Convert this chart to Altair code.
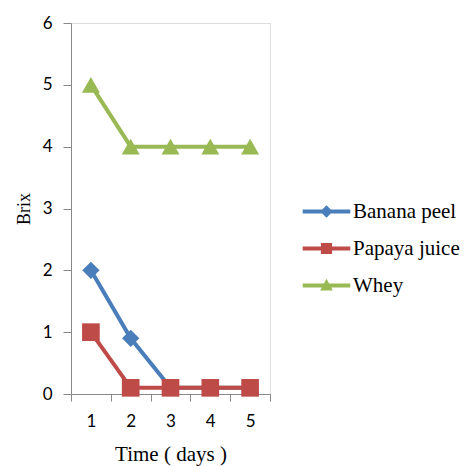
import altair as alt
import pandas as pd

time = [1, 2, 3, 4, 5]
series = ["Banana peel", "Papaya juice", "Whey"]
banana = [2.0, 0.9, 0.1, 0.1, 0.1]
papaya = [1.0, 0.1, 0.1, 0.1, 0.1]
whey = [5.0, 4.0, 4.0, 4.0, 4.0]
colors = ["#4A7EBB", "#BE4B48", "#98B954"]
shapes = ["diamond", "square", "triangle-up"]
marker_sizes = [300, 324, 324]
legend_paths = [
    "M-3.4,-0.29H-0.61L0,-0.9L0.61,-0.29H3.4V0.29H0.61L0,0.9L-0.61,0.29H-3.4Z",
    "M-3.4,-0.29H-0.8V-0.8H0.8V-0.29H3.4V0.29H0.8V0.8H-0.8V0.29H-3.4Z",
    "M-3.4,-0.29H-0.36L0,-0.95L0.36,-0.29H3.4V0.29H0.68L0.9,0.7H-0.9L-0.68,0.29H-3.4Z",
]

rows = []
for name, vals in zip(series, [banana, papaya, whey]):
    for t, v in zip(time, vals):
        rows.append({"Time": t, "Series": name, "Brix": v})
df = pd.DataFrame(rows)

x = alt.X(
    "Time:O",
    scale=alt.Scale(type="band", paddingInner=0, paddingOuter=0),
    axis=alt.Axis(
        title="Time ( days )", labelAngle=0, tickBand="extent",
        labelFont="Lato", labelFontSize=17, labelColor="#000000", labelPadding=12,
        titleFont="Liberation Serif", titleFontSize=21, titleFontWeight="normal",
        titleColor="#000000", titlePadding=14, tickSize=7,
    ),
)
y = alt.Y(
    "Brix:Q",
    scale=alt.Scale(domain=[0, 6]),
    axis=alt.Axis(
        values=[0, 1, 2, 3, 4, 5, 6], grid=False, title="Brix",
        labelFont="Lato", labelFontSize=17, labelColor="#000000", labelPadding=11,
        titleFont="Liberation Serif", titleFontSize=18, titleFontWeight="normal",
        titleColor="#000000", titlePadding=9, tickSize=8,
    ),
)

cscale = alt.Scale(domain=series, range=colors)
base = alt.Chart(df)

lines = base.mark_line(strokeWidth=4).encode(
    x=x, y=y, color=alt.Color("Series:N", scale=cscale, legend=None)
)
points = base.mark_point(filled=True, opacity=1).encode(
    x=x, y=y,
    color=alt.Color("Series:N", scale=cscale, legend=None),
    shape=alt.Shape("Series:N", scale=alt.Scale(domain=series, range=shapes), legend=None),
    size=alt.Size("Series:O", scale=alt.Scale(domain=series, range=marker_sizes), legend=None),
)
leg_common = dict(
    orient="none", legendX=245, legendY=178, title=None,
    symbolSize=196, symbolStrokeWidth=0, labelFont="Liberation Serif",
    labelFontSize=21, labelColor="#000000", labelOffset=16, rowPadding=15,
)
legend_layer = base.mark_point(filled=True, opacity=1).encode(
    x=x, y=y,
    color=alt.Color("Series:N", scale=cscale, legend=alt.Legend(**leg_common)),
    shape=alt.Shape("Series:N", scale=alt.Scale(domain=series, range=legend_paths),
                    legend=alt.Legend(**leg_common)),
).transform_filter("false")

chart = alt.layer(lines, points, legend_layer).resolve_scale(
    color="independent", shape="independent", size="independent"
).properties(
    width=199, height=371,
    autosize=alt.AutoSizeParams(type="none"),
    padding={"left": 71, "top": 23, "right": 195, "bottom": 72},
).configure_view(stroke=None).configure_axis(
    domainColor="#868686", tickColor="#868686", domainWidth=1.3, tickWidth=1.3
).configure(background="white")

chart.save("out.html", embed_options={"renderer": "svg", "actions": False})
